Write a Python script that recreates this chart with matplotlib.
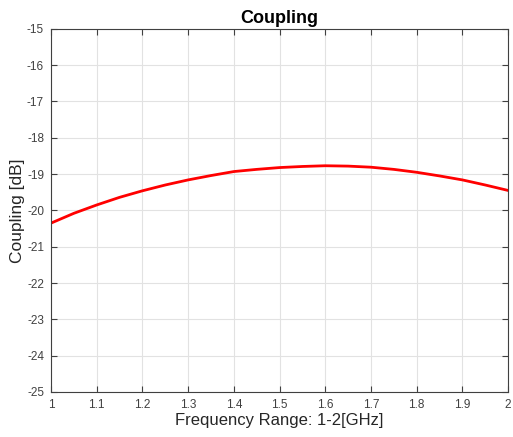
import matplotlib.pyplot as plt
import numpy as np

plt.rcParams['font.family'] = ['Liberation Sans', 'DejaVu Sans']
plt.rcParams['axes.unicode_minus'] = False

# values
freq = [1.0, 1.05, 1.1, 1.15, 1.2, 1.25, 1.3, 1.35, 1.4, 1.45, 1.5,
        1.55, 1.6, 1.65, 1.7, 1.75, 1.8, 1.85, 1.9, 1.95, 2.0]
coupling = [-20.35, -20.08, -19.85, -19.64, -19.46, -19.30, -19.16, -19.04, -18.93, -18.87, -18.82,
            -18.79, -18.77, -18.78, -18.81, -18.87, -18.95, -19.05, -19.16, -19.30, -19.45]
xticks = [1, 1.1, 1.2, 1.3, 1.4, 1.5, 1.6, 1.7, 1.8, 1.9, 2]
xticklabels = ['1', '1.1', '1.2', '1.3', '1.4', '1.5', '1.6', '1.7', '1.8', '1.9', '2']
yticks = list(range(-25, -14))

fig = plt.figure(figsize=(5.13, 4.37), dpi=100)
ax = fig.add_axes([0.0994, 0.103, 0.891, 0.831])

ax.plot(freq, coupling, color='red', lw=2)

ax.set_xlim(1, 2)
ax.set_ylim(-25, -15)
ax.set_xticks(xticks)
ax.set_xticklabels(xticklabels)
ax.set_yticks(yticks)
ax.grid(True, color='#e2e2e2', lw=0.8)
ax.tick_params(direction='in', top=True, right=True, labelsize=8.5,
               colors='#404040', length=4, width=0.8, pad=5)
for s in ax.spines.values():
    s.set_color('#404040')
    s.set_linewidth(0.8)

ax.set_xlabel('Frequency Range: 1-2[GHz]', fontsize=12, color='#262626')
ax.set_ylabel('Coupling [dB]', fontsize=12.5, color='#262626')
ax.xaxis.set_label_coords(0.5, -0.058)
ax.yaxis.set_label_coords(-0.057, 0.5)
ax.set_title('Coupling', fontsize=13, fontweight='bold', pad=4)

fig.savefig('out.png', dpi=100)
